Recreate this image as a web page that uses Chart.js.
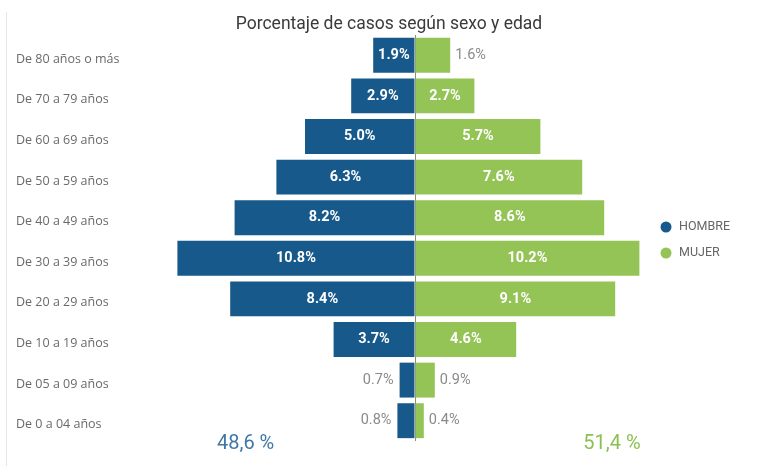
<!DOCTYPE html>
<html>
<head>
<meta charset="utf-8">
<script src="https://cdn.jsdelivr.net/npm/chart.js@4"></script>
<style>
    body { margin: 0; background: #fff; }
    #wrap { position: relative; width: 760px; height: 466px; }
    #edge { position: absolute; left: 6px; top: 12px; bottom: 0; border-left: 1px solid #e6e6e6; }
</style>
</head>
<body>
<div id="wrap">
    <div id="edge"></div>
    <canvas id="pyramid"></canvas>
</div>
<script>
const ageGroups = [
    'De 80 años o más', 'De 70 a 79 años', 'De 60 a 69 años', 'De 50 a 59 años',
    'De 40 a 49 años', 'De 30 a 39 años', 'De 20 a 29 años', 'De 10 a 19 años',
    'De 05 a 09 años', 'De 0 a 04 años'
];
const hombre = [1.9, 2.9, 5.0, 6.3, 8.2, 10.8, 8.4, 3.7, 0.7, 0.8];
const mujer = [1.6, 2.7, 5.7, 7.6, 8.6, 10.2, 9.1, 4.6, 0.9, 0.4];
const seriesNames = ['HOMBRE', 'MUJER'];
const totals = ['48,6 %', '51,4 %'];
const chartTitle = 'Porcentaje de casos según sexo y edad';

const BLUE = '#17598a';
const GREEN = '#94c356';

// values on bars: white inside when they fit, grey outside otherwise
const barLabels = {
    id: 'barLabels',
    afterDatasetsDraw(chart) {
        const ctx = chart.ctx;
        ctx.save();
        ctx.textBaseline = 'middle';
        chart.data.datasets.forEach((ds, i) => {
            const meta = chart.getDatasetMeta(i);
            meta.data.forEach((bar, j) => {
                const v = Math.abs(ds.data[j]);
                const txt = v.toFixed(1) + '%';
                if (v >= 1.8) {
                    ctx.font = 'bold 14.5px Roboto';
                    ctx.fillStyle = '#fff';
                    ctx.textAlign = 'center';
                    ctx.fillText(txt, (bar.x + bar.base) / 2, bar.y);
                } else {
                    ctx.font = '14.5px Roboto';
                    ctx.fillStyle = '#8a8a8a';
                    const left = ds.data[j] < 0;
                    ctx.textAlign = left ? 'right' : 'left';
                    ctx.fillText(txt, bar.x + (left ? -6 : 5), bar.y);
                }
            });
        });
        ctx.restore();
    }
};

// title, legend dots and totals under each side
const extras = {
    id: 'extras',
    afterDraw(chart) {
        const ctx = chart.ctx;
        const xs = chart.scales.x;
        ctx.save();
        ctx.font = '17.5px Roboto';
        ctx.fillStyle = '#3a3a3a';
        ctx.textAlign = 'center';
        ctx.textBaseline = 'alphabetic';
        ctx.fillText(chartTitle, 389, 29);

        ctx.textBaseline = 'middle';
        ctx.font = '12.5px Roboto';
        chart.data.datasets.forEach((ds, i) => {
            const y = 227 + i * 26;
            ctx.fillStyle = ds.backgroundColor;
            ctx.beginPath();
            ctx.arc(666, y, 5.5, 0, Math.PI * 2);
            ctx.fill();
            ctx.fillStyle = '#666';
            ctx.textAlign = 'left';
            ctx.fillText(ds.label, 679, y);
        });
        ctx.font = '20px Roboto';
        ctx.textAlign = 'center';
        ctx.fillStyle = '#3f78a6';
        ctx.fillText(totals[0], xs.getPixelForValue(-7.7), 444);
        ctx.fillStyle = '#8cc152';
        ctx.fillText(totals[1], xs.getPixelForValue(8.95), 444);
        ctx.restore();
    }
};

new Chart(document.getElementById('pyramid'), {
    type: 'bar',
    data: {
        labels: ageGroups,
        datasets: [
            { label: seriesNames[0], data: hombre.map(v => -v), backgroundColor: BLUE },
            { label: seriesNames[1], data: mujer, backgroundColor: GREEN }
        ]
    },
    options: {
        indexAxis: 'y',
        responsive: true,
        maintainAspectRatio: false,
        animation: false,
        layout: { padding: { left: 16, right: 92, top: 35, bottom: 25 } },
        datasets: { bar: { barPercentage: 0.86, categoryPercentage: 1 } },
        scales: {
            x: {
                stacked: true,
                min: -11.5,
                max: 11.5,
                z: 1,
                ticks: { display: false, stepSize: 5 },
                border: { display: false },
                grid: {
                    drawTicks: false,
                    color: c => c.tick && c.tick.value === 0 ? '#8a8a8a' : 'transparent'
                }
            },
            y: {
                stacked: true,
                grid: { display: false },
                border: { display: false },
                ticks: {
                    color: '#6a6a6a',
                    crossAlign: 'far',
                    padding: 0,
                    labelOffset: 4,
                    font: { family: 'Open Sans', size: 12.5 }
                },
                afterFit(scale) { scale.width = 146; }
            }
        },
        plugins: {
            legend: { display: false },
            tooltip: { enabled: false },
            title: { display: false }
        }
    },
    plugins: [barLabels, extras]
});
</script>
</body>
</html>
